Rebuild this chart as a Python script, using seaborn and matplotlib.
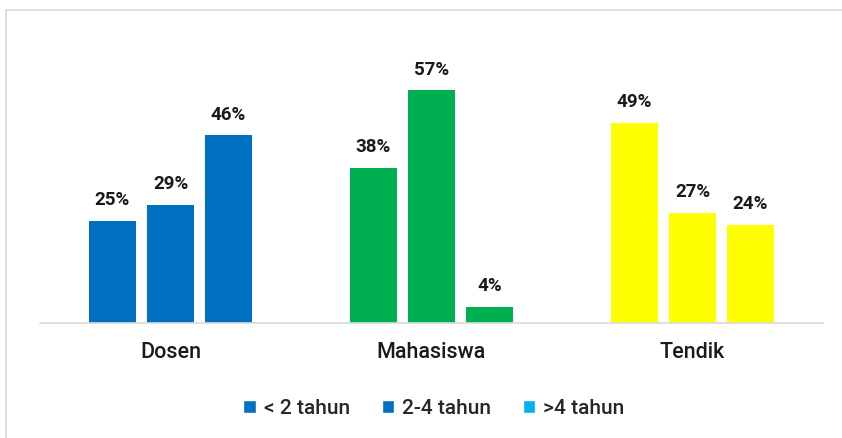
import matplotlib
matplotlib.use("Agg")
import matplotlib.pyplot as plt
import seaborn as sns
import pandas as pd
from matplotlib.patches import Rectangle

groups = ["Dosen", "Mahasiswa", "Tendik"]
series = ["< 2 tahun", "2-4 tahun", ">4 tahun"]
values = {
    "Dosen": [25, 29, 46],
    "Mahasiswa": [38, 57, 4],
    "Tendik": [49, 27, 24],
}
group_colors = ["#0070C0", "#00B050", "#FFFF00"]
legend_colors = ["#0070C0", "#0070C0", "#00B0F0"]

rows = []
for g in groups:
    for s, v in zip(series, values[g]):
        rows.append({"group": g, "series": s, "value": v})
df = pd.DataFrame(rows)

sns.set_theme(style="white")
plt.rcParams["font.family"] = ["Roboto", "DejaVu Sans"]

fig = plt.figure(figsize=(8.42, 4.39), dpi=100)
ax = fig.add_axes([40 / 842, 1 - 324 / 439, 783 / 842, 245 / 439])

sns.barplot(data=df, x="group", y="value", hue="series", order=groups,
            hue_order=series, palette=legend_colors, width=0.667, gap=0.2,
            saturation=1, ax=ax, legend=True)

# recolor by group
for ci, cont in enumerate(ax.containers):
    for gi, bar in enumerate(cont):
        bar.set_facecolor(group_colors[gi])
        bar.set_edgecolor("none")
    ax.bar_label(cont, labels=[f"{int(v)}%" for v in cont.datavalues],
                 padding=9, fontsize=13.5, fontweight="bold", color="#1a1a1a")

ax.set_xlim(-0.5, 2.5)
ax.set_ylim(0, 60)
ax.set_xlabel("")
ax.set_ylabel("")
ax.set_yticks([])
ax.tick_params(axis="x", length=0, pad=13, labelsize=15.5, labelcolor="#1a1a1a")
for lab in ax.get_xticklabels():
    lab.set_fontweight("medium")
for sp in ["top", "right", "left"]:
    ax.spines[sp].set_visible(False)
ax.spines["bottom"].set_color("#d9d9d9")
ax.spines["bottom"].set_linewidth(1.2)

leg = ax.get_legend()
handles = leg.legend_handles
leg.remove()
legobj = fig.legend(handles, series, loc="center", bbox_to_anchor=(434 / 842, 1 - 409 / 439),
                    ncol=3, frameon=False, fontsize=15, handlelength=0.6, handleheight=0.6,
                    handletextpad=0.4, columnspacing=1.5)
for t in legobj.get_texts():
    t.set_fontweight("medium")
for h, c in zip(handles, legend_colors):
    h.set_facecolor(c)

fig.patches.append(Rectangle((6 / 842, -0.1), 1.2, 1 - 11 / 439 + 0.1,
                             transform=fig.transFigure, fill=False,
                             edgecolor="#d9d9d9", linewidth=1.2, figure=fig))

fig.savefig("out.png", dpi=100, facecolor="white")
